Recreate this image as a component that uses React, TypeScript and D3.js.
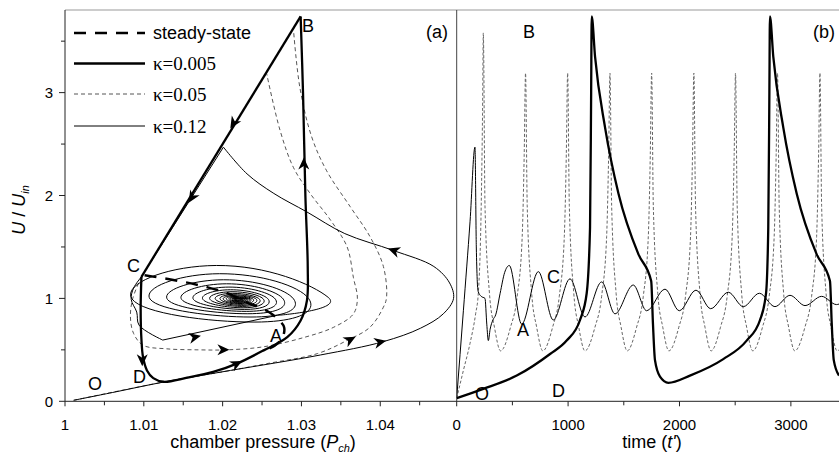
import React from 'react';
import * as d3 from 'd3';

// ---------- axis ticks ----------
const xTicksA = [1, 1.01, 1.02, 1.03, 1.04];
const xTickLabelsA = ['1', '1.01', '1.02', '1.03', '1.04'];
const xMinorTicksA = [1.005, 1.015, 1.025, 1.035, 1.045];
const yTicks = [0, 1, 2, 3];
const yMinorTicks = [0.5, 1.5, 2.5, 3.5];
const xTicksB = [0, 1000, 2000, 3000];
const xMinorTicksB = [500, 1500, 2500];

// ---------- legend ----------
const legendLabels = ['steady-state', 'κ=0.005', 'κ=0.05', 'κ=0.12'];

// ---------- panel (a): phase plane (Pch, U/Uin) ----------
// κ=0.12 (thin): from O along lower branch, around the right, up to the upper branch
const thinA1: [number, number][] = [
  [1.0011, 0.01], [1.006, 0.085], [1.0125, 0.187], [1.021, 0.30], [1.0324, 0.45],
  [1.0404, 0.58], [1.0451, 0.71], [1.048, 0.85], [1.0493, 1.0], [1.0488, 1.15],
  [1.0468, 1.31], [1.0417, 1.465], [1.0355, 1.63], [1.0307, 1.84], [1.0265, 2.02],
  [1.0231, 2.21], [1.0201, 2.47],
];
const thinA2: [number, number][] = [[1.0201, 2.47], [1.0097, 1.21]];
const thinA3: [number, number][] = [
  [1.0097, 1.21], [1.0087, 1.1], [1.0084, 0.99], [1.0091, 0.867], [1.0094, 0.74], [1.0124, 0.595],
];
const thinA4: [number, number][] = [[1.0124, 0.595], [1.0269, 0.835]];
// κ=0.12 spiral towards the focus (right, top, left, bottom extremes of each turn)
const spiralA: [number, number][] = [
  [1.0269, 0.835],
  [1.0334, 1.01], [1.0192, 1.32], [1.0085, 0.995], [1.0241, 0.77],
  [1.0309, 1.0], [1.0196, 1.24], [1.0108, 0.993], [1.0236, 0.819],
  [1.029, 0.995], [1.0201, 1.181], [1.013, 0.99], [1.0232, 0.851],
  [1.0277, 0.993], [1.0205, 1.142], [1.0148, 0.99], [1.023, 0.874],
  [1.0267, 0.992], [1.0208, 1.11], [1.0163, 0.99], [1.0228, 0.893],
  [1.0258, 0.991], [1.021, 1.084], [1.0175, 0.99], [1.0226, 0.909],
  [1.0252, 0.991], [1.0212, 1.065], [1.0184, 0.99], [1.0225, 0.922],
  [1.0247, 0.99], [1.0213, 1.049], [1.0191, 0.99], [1.0224, 0.932],
  [1.0243, 0.99], [1.0214, 1.036], [1.0197, 0.99], [1.0223, 0.942],
  [1.0239, 0.99], [1.0215, 1.026], [1.0201, 0.99], [1.0222, 0.95],
  [1.0236, 0.99], [1.0215, 1.018], [1.0205, 0.99], [1.0222, 0.956],
  [1.0234, 0.99], [1.0216, 1.011], [1.0208, 0.99], [1.0221, 0.962],
  [1.0232, 0.99], [1.0216, 1.006], [1.021, 0.99], [1.0221, 0.968],
  [1.023, 0.99], [1.0217, 1.002], [1.0212, 0.99], [1.022, 0.973],
  [1.0228, 0.99], [1.0217, 0.998], [1.0214, 0.99], [1.0219, 0.978],
  [1.0226, 0.99], [1.0217, 0.996], [1.0215, 0.99], [1.0219, 0.982],
  [1.0224, 0.99], [1.0218, 0.994], [1.0216, 0.99], [1.0218, 0.985],
];
// κ=0.005 (thick)
const thickA1: [number, number][] = [
  [1.0097, 1.21], [1.0096, 0.9], [1.0097, 0.6], [1.0099, 0.43], [1.0104, 0.30],
  [1.0112, 0.225], [1.0125, 0.19], [1.0155, 0.23], [1.0188, 0.285], [1.0218, 0.366],
  [1.0252, 0.495], [1.0282, 0.624], [1.0299, 0.786], [1.0307, 0.98], [1.0308, 1.3],
  [1.0305, 2.0], [1.0302, 3.0], [1.0299, 3.74],
];
const thickA2: [number, number][] = [[1.0299, 3.74], [1.0097, 1.21]];
// κ=0.05 (thin dashed): first excursion and limit cycle
const dashA1: [number, number][] = [
  [1.0011, 0.01], [1.0125, 0.187], [1.021, 0.30], [1.0256, 0.366], [1.032, 0.463],
  [1.0358, 0.592], [1.0387, 0.72], [1.0404, 0.915], [1.0408, 1.01], [1.0404, 1.31],
  [1.0387, 1.6], [1.0362, 1.89], [1.0332, 2.24], [1.0313, 2.57], [1.0298, 3.05], [1.029, 3.6],
];
const dashA2: [number, number][] = [
  [1.0097, 1.21], [1.0086, 1.0], [1.0083, 0.82], [1.0087, 0.66], [1.0099, 0.545],
  [1.0129, 0.51], [1.017, 0.50], [1.0205, 0.50], [1.0252, 0.53], [1.0303, 0.62],
  [1.0341, 0.72], [1.0366, 0.85], [1.0371, 1.0], [1.0366, 1.2], [1.0358, 1.5],
  [1.0337, 1.76], [1.0311, 2.02], [1.029, 2.27], [1.0273, 2.63], [1.0256, 3.18],
];
// steady-state locus
const steadyA: [number, number][] = [
  [1.0101, 1.225], [1.0144, 1.17], [1.018, 1.11], [1.0206, 1.05], [1.0231, 0.96],
  [1.0256, 0.88], [1.027, 0.8], [1.0278, 0.72], [1.0276, 0.62], [1.0266, 0.54], [1.0252, 0.49],
];
// arrow heads: position and direction (data units)
const arrowsA = [
  { x: 1.02137, y: 2.7, dx: -0.02, dy: -2.53 },
  { x: 1.01609, y: 1.98, dx: -0.02, dy: -2.53 },
  { x: 1.0303, y: 2.31, dx: 0, dy: 1 },
  { x: 1.0098, y: 0.4, dx: 0, dy: -1 },
  { x: 1.0218, y: 0.366, dx: 0.0034, dy: 0.13 },
  { x: 1.04, y: 0.576, dx: 0.008, dy: 0.13 },
  { x: 1.0362, y: 0.6, dx: 0.0035, dy: 0.14 },
  { x: 1.0201, y: 0.5, dx: 1, dy: 0 },
  { x: 1.0165, y: 0.624, dx: 0.0145, dy: 0.24 },
  { x: 1.0417, y: 1.465, dx: -0.0062, dy: 0.165 },
];

// ---------- panel (b): time series (t', U/Uin) ----------
const tsThick: [number, number][] = [
  [0, 0.03], [239, 0.12], [539, 0.25], [838, 0.46], [987, 0.59], [1107, 0.79],
  [1167, 1.05], [1197, 1.69], [1207, 3.0], [1212, 3.74], [1242, 3.35], [1332, 2.66],
  [1452, 2.02], [1631, 1.43], [1746, 1.17], [1762, 0.75], [1780, 0.4], [1825, 0.24],
  [1900, 0.18], [2094, 0.25], [2393, 0.41], [2603, 0.59], [2723, 0.79], [2777, 1.05],
  [2797, 1.69], [2807, 3.0], [2812, 3.74], [2842, 3.35], [2932, 2.66], [3052, 2.02],
  [3231, 1.43], [3351, 1.17], [3367, 0.75], [3385, 0.4], [3432, 0.25],
];
const tsThin: [number, number][] = [
  [0, 0.03], [60, 0.88], [120, 1.75], [164, 2.47], [176, 1.5], [192, 1.07], [220, 1.02],
  [254, 1.0], [270, 0.75], [284, 0.59], [300, 0.7], [325, 0.79], [350, 0.84], [390, 1.05],
  [430, 1.25], [472, 1.32], [583, 0.75], [733, 1.26], [867, 0.79], [1017, 1.19],
  [1152, 0.82], [1301, 1.16], [1421, 0.85], [1585, 1.13], [1705, 0.88], [1870, 1.09],
  [1998, 0.88], [2148, 1.08], [2280, 0.9], [2438, 1.06], [2573, 0.92], [2717, 1.05],
  [2857, 0.92], [2992, 1.03], [3127, 0.93], [3276, 1.02], [3410, 0.94], [3432, 0.945],
];
const tsDash: [number, number][] = [
  [0, 0.03], [60, 0.3], [119, 0.56], [170, 0.85], [194, 1.05], [220, 1.9], [232, 2.8], [239, 3.58],
  [254, 1.9], [294, 1.05], [339, 0.72], [394, 0.49], [483, 0.72], [543, 1.02], [588, 1.6], [606, 2.4], [618, 3.19],
  [633, 1.9], [673, 1.05], [718, 0.72], [773, 0.49], [861, 0.72], [921, 1.02], [966, 1.6], [984, 2.4], [996, 3.19],
  [1011, 1.9], [1051, 1.05], [1096, 0.72], [1151, 0.49], [1241, 0.72], [1301, 1.02], [1346, 1.6], [1364, 2.4], [1376, 3.19],
  [1391, 1.9], [1431, 1.05], [1476, 0.72], [1531, 0.49], [1615, 0.72], [1675, 1.02], [1720, 1.6], [1738, 2.4], [1750, 3.19],
  [1765, 1.9], [1805, 1.05], [1850, 0.72], [1905, 0.49], [1994, 0.72], [2054, 1.02], [2099, 1.6], [2117, 2.4], [2129, 3.19],
  [2144, 1.9], [2184, 1.05], [2229, 0.72], [2284, 0.49], [2368, 0.72], [2428, 1.02], [2473, 1.6], [2491, 2.4], [2503, 3.19],
  [2518, 1.9], [2558, 1.05], [2603, 0.72], [2658, 0.49], [2745, 0.72], [2805, 1.02], [2850, 1.6], [2868, 2.4], [2880, 3.19],
  [2895, 1.9], [2935, 1.05], [2980, 0.72], [3035, 0.49], [3126, 0.72], [3186, 1.02], [3231, 1.6], [3249, 2.4], [3261, 3.19],
  [3276, 1.9], [3316, 1.05], [3361, 0.72], [3416, 0.49], [3432, 0.5],
];

const SANS = '"Liberation Sans", Arial, sans-serif';
const SERIF = '"Liberation Serif", "Times New Roman", serif';

export default function App() {
  const W = 839, H = 457;
  const xA = d3.scaleLinear().domain([1, 1.0497]).range([65, 456.7]);
  const xB = d3.scaleLinear().domain([0, 3432]).range([456.7, 839]);
  const y = d3.scaleLinear().domain([0, 3.8]).range([401.3, 10.3]);

  const pathA = (pts: [number, number][], curve: any) =>
    d3.line<[number, number]>().x(d => xA(d[0])).y(d => y(d[1])).curve(curve)(pts) || '';
  const pathB = (pts: [number, number][]) =>
    d3.line<[number, number]>().x(d => xB(d[0])).y(d => y(d[1])).curve(d3.curveMonotoneX)(pts) || '';

  const cr = d3.curveCatmullRom.alpha(0.5);
  const spiralCurve = d3.curveCardinal.tension(-0.55);

  const thick = { stroke: '#000', strokeWidth: 2.3, fill: 'none', strokeLinejoin: 'miter' as const };
  const thin = { stroke: '#000', strokeWidth: 1, fill: 'none' };
  const dashed = { stroke: '#555', strokeWidth: 1, fill: 'none', strokeDasharray: '4 3' };
  const dashedB = { stroke: '#666', strokeWidth: 1, fill: 'none', strokeDasharray: '3 2' };
  const steady = { stroke: '#000', strokeWidth: 2.5, fill: 'none', strokeDasharray: '12 9' };

  const legendStyles = [steady, thick, dashed, thin];
  const legendY = [33, 63.5, 94, 126];

  const arrow = 'M6,0 L-6,-5.5 L-2.5,0 L-6,5.5 Z';
  const baseY = y(0);
  const topY = 10;

  const labelsA = [
    { t: 'B', x: 302, y: 32 }, { t: 'C', x: 127, y: 272 }, { t: 'A', x: 270, y: 342 },
    { t: 'D', x: 133, y: 383 }, { t: 'O', x: 88, y: 390 },
  ];
  const labelsB = [
    { t: 'B', x: 523, y: 38 }, { t: 'C', x: 547, y: 283 }, { t: 'A', x: 517, y: 336 },
    { t: 'D', x: 552, y: 397 }, { t: 'O', x: 475, y: 400 },
  ];

  return (
    <svg width={W} height={H} style={{ position: 'absolute', left: 0, top: 0, background: '#fff' }}
      fontFamily={SANS}>
      <defs>
        <clipPath id="clipA"><rect x={65} y={0} width={456.7 - 65} height={402} /></clipPath>
        <clipPath id="clipB"><rect x={456.7} y={0} width={W - 456.7} height={402} /></clipPath>
      </defs>
      <rect x={0} y={0} width={W} height={H} fill="#fff" />

      {/* frame */}
      <line x1={65} x2={W} y1={topY} y2={topY} stroke="#999" strokeWidth={1} />
      <line x1={65} x2={65} y1={topY} y2={baseY} stroke="#222" strokeWidth={1} />
      <line x1={456.7} x2={456.7} y1={topY} y2={baseY} stroke="#444" strokeWidth={1} />
      <line x1={65} x2={W} y1={baseY} y2={baseY} stroke="#222" strokeWidth={1} />

      {/* y ticks */}
      {yTicks.map(v => (
        <g key={'yt' + v}>
          <line x1={59} x2={65} y1={y(v)} y2={y(v)} stroke="#222" />
          <text x={53} y={y(v)} dy="0.36em" textAnchor="end" fontSize={15}>{v}</text>
        </g>
      ))}
      {yMinorTicks.map(v => (
        <line key={'ym' + v} x1={61} x2={65} y1={y(v)} y2={y(v)} stroke="#222" />
      ))}
      {/* x ticks panel a */}
      {xTicksA.map((v, i) => (
        <g key={'xa' + v}>
          <line x1={xA(v)} x2={xA(v)} y1={baseY} y2={baseY + 5} stroke="#222" />
          <text x={xA(v)} y={430} textAnchor="middle" fontSize={15}>{xTickLabelsA[i]}</text>
        </g>
      ))}
      {xMinorTicksA.map(v => (
        <line key={'xam' + v} x1={xA(v)} x2={xA(v)} y1={baseY} y2={baseY + 4} stroke="#222" />
      ))}
      {/* x ticks panel b */}
      {xTicksB.map(v => (
        <g key={'xb' + v}>
          <line x1={xB(v)} x2={xB(v)} y1={baseY} y2={baseY + 5} stroke="#222" />
          <text x={xB(v)} y={430} textAnchor="middle" fontSize={15}>{v}</text>
        </g>
      ))}
      {xMinorTicksB.map(v => (
        <line key={'xbm' + v} x1={xB(v)} x2={xB(v)} y1={baseY} y2={baseY + 4} stroke="#222" />
      ))}

      {/* axis titles */}
      <text x={263} y={448} textAnchor="middle" fontSize={18}>
        chamber pressure (<tspan fontStyle="italic">P</tspan>
        <tspan fontStyle="italic" fontSize={11} dy={4}>ch</tspan>
        <tspan dy={-4}>)</tspan>
      </text>
      <text x={652} y={448} textAnchor="middle" fontSize={18}>
        time (<tspan fontStyle="italic">t'</tspan>)
      </text>
      <text transform={`translate(25,210) rotate(-90)`} textAnchor="middle" fontSize={18}>
        <tspan fontStyle="italic">U</tspan> / <tspan fontStyle="italic">U</tspan>
        <tspan fontStyle="italic" fontSize={11} dy={4}>in</tspan>
      </text>

      {/* panel (a) curves */}
      <g clipPath="url(#clipA)">
        <path d={pathA(dashA1, cr)} {...dashed} />
        <path d={pathA(dashA2, cr)} {...dashed} />
        <path d={pathA(thinA1, cr)} {...thin} />
        <path d={pathA(thinA2, d3.curveLinear)} {...thin} />
        <path d={pathA(thinA3, cr)} {...thin} />
        <path d={pathA(thinA4, d3.curveLinear)} {...thin} />
        <path d={pathA(spiralA, spiralCurve)} {...thin} />
        <path d={pathA(steadyA, cr)} {...steady} />
        <path d={pathA(thickA1, cr)} {...thick} />
        <path d={pathA(thickA2, d3.curveLinear)} {...thick} />
        {arrowsA.map((a, i) => {
          const px = xA(a.x), py = y(a.y);
          const ang = Math.atan2(y(a.y + a.dy) - py, xA(a.x + a.dx) - px) * 180 / Math.PI;
          return <path key={'ar' + i} d={arrow} fill="#000" transform={`translate(${px},${py}) rotate(${ang})`} />;
        })}
      </g>

      {/* panel (b) curves */}
      <g clipPath="url(#clipB)">
        <path d={pathB(tsDash)} {...dashedB} />
        <path d={pathB(tsThin)} {...thin} />
        <path d={pathB(tsThick)} {...thick} />
      </g>

      {/* legend */}
      {legendLabels.map((lab, i) => (
        <g key={'lg' + i}>
          <line x1={74} x2={145} y1={legendY[i]} y2={legendY[i]} {...legendStyles[i]} />
          <text x={153} y={legendY[i]} dy="0.36em" fontSize={i === 0 ? 18 : 19}
            fontFamily={i === 0 ? SANS : SERIF}>{lab}</text>
        </g>
      ))}

      {/* point labels */}
      {labelsA.map(l => <text key={'la' + l.t} x={l.x} y={l.y} fontSize={18}>{l.t}</text>)}
      {labelsB.map(l => <text key={'lb' + l.t} x={l.x} y={l.y} fontSize={18}>{l.t}</text>)}
      <text x={448} y={38} textAnchor="end" fontSize={18}>(a)</text>
      <text x={813} y={38} fontSize={18}>(b)</text>
    </svg>
  );
}
